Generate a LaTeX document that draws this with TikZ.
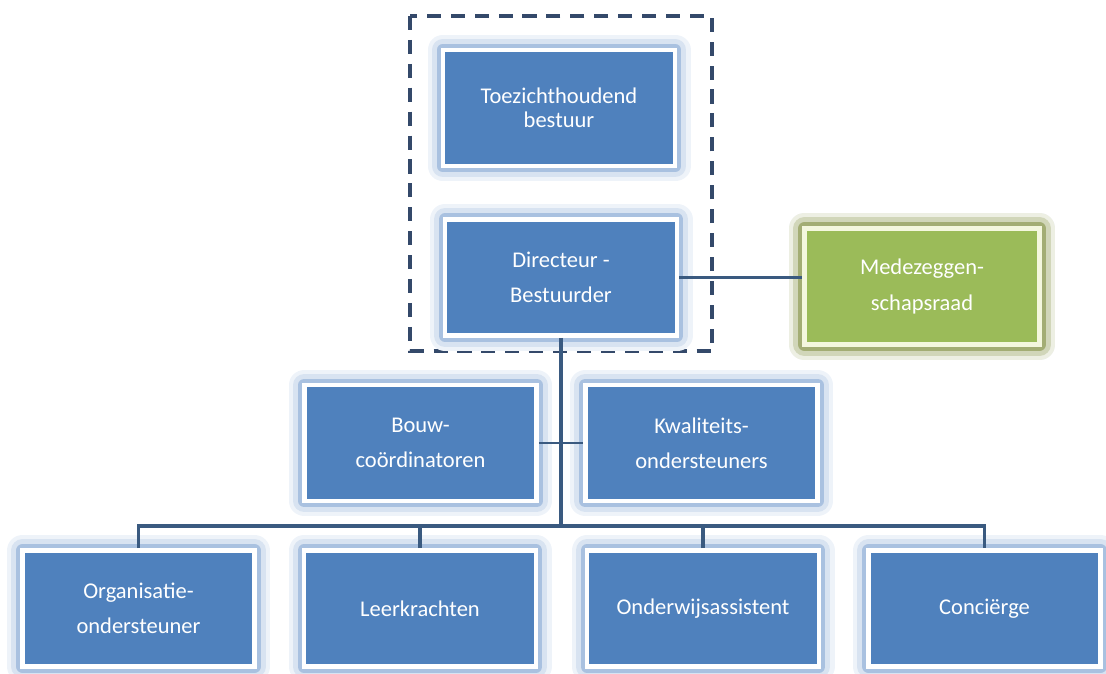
\documentclass[tikz,border=0pt]{standalone}
\usepackage{fontspec}
\setmainfont{Carlito}
\usetikzlibrary{positioning}
\definecolor{blokblauw}{HTML}{4F81BD}
\definecolor{gloedblauw}{HTML}{A9C1E0}
\definecolor{blokgroen}{HTML}{9BBB59}
\definecolor{gloedgroen}{HTML}{A3AD74}
\definecolor{randgroen}{HTML}{F4F7DE}
\definecolor{lijnkleur}{HTML}{3A5A80}
\definecolor{kaderkleur}{HTML}{34496A}

\begin{document}
\begin{tikzpicture}[x=0.025cm,y=-0.025cm,
  blok/.style={draw=white, line width=3.5pt, fill=blokblauw, text=white, align=center,
    minimum width=5.8cm, minimum height=2.9cm, font=\fontsize{16}{25}\selectfont,
    preaction={draw=gloedblauw!20, line width=22pt, line join=round},
    preaction={draw=gloedblauw!45, line width=16pt, line join=round},
    preaction={draw=gloedblauw, line width=9pt, line join=round}},
  groenblok/.style={blok, draw=randgroen, fill=blokgroen, minimum width=5.875cm,
    preaction={draw=gloedgroen!20, line width=22pt, line join=round},
    preaction={draw=gloedgroen!50, line width=16pt, line join=round},
    preaction={draw=gloedgroen, line width=9pt, line join=round}},
  lijn/.style={draw=lijnkleur, line width=2.8pt},
  kader/.style={draw=kaderkleur, line width=2.2pt, dash pattern=on 10pt off 7pt}]
\useasboundingbox (0,0) rectangle (1106,673);

\draw[kader] (410,16) rectangle (712,351);

\node[blok, font=\fontsize{16}{17}\selectfont] (toezicht) at (559,108) {Toezichthoudend\\bestuur};
\node[blok] (directeur) at (561,277.5) {Directeur -\\Bestuurder};
\node[groenblok] (mr) at (922,286.5) {Medezeggen-\\schapsraad};

\node[blok] (bouw) at (420.5,443) {Bouw-\\coördinatoren};
\node[blok] (kwaliteit) at (701.5,443) {Kwaliteits-\\ondersteuners};

\node[blok] (organisatie) at (138.5,608.5) {Organisatie-\\ondersteuner};
\node[blok] (leerkrachten) at (420,608.5) {Leerkrachten};
\node[blok] (assistent) at (703,608.5) {Onderwijsassistent};
\node[blok] (concierge) at (984.5,608.5) {Conciërge};

\coordinate (bus) at (561,526);

\draw[lijn] (directeur.east) -- (directeur.east -| mr.west);
\draw[lijn, line width=2pt] (bouw.east) -- (kwaliteit.west);
\draw[lijn] (directeur.south) -- (bus);
\draw[lijn] (organisatie.north) |- (bus) -| (concierge.north);
\foreach \n in {leerkrachten,assistent}
  \draw[lijn] (\n.north) -- (\n.north |- bus);

\end{tikzpicture}
\end{document}
